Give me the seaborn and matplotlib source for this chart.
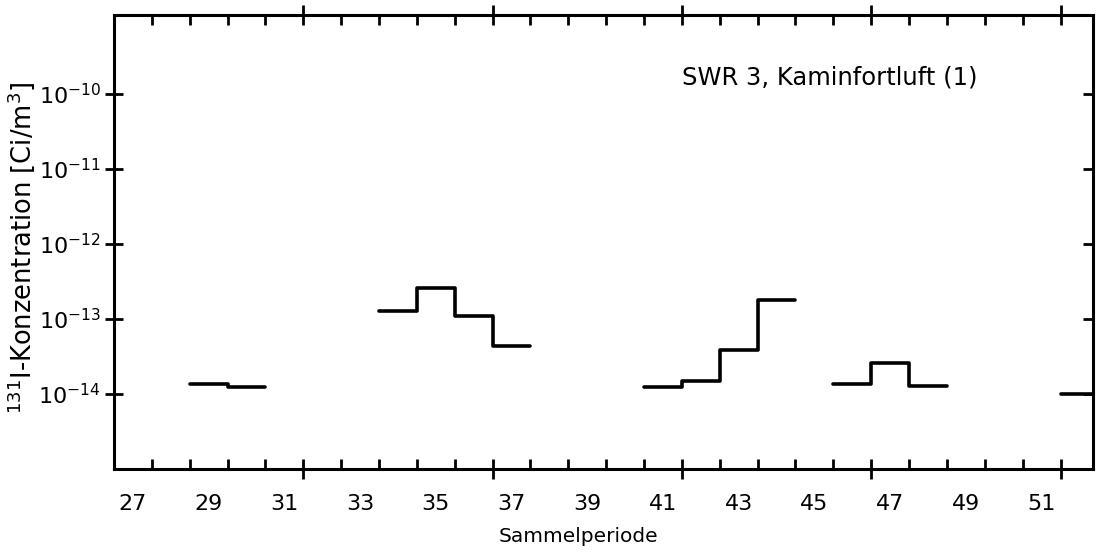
import numpy as np
import pandas as pd
import matplotlib
matplotlib.use("Agg")
import matplotlib.pyplot as plt
import seaborn as sns
from matplotlib.ticker import FixedLocator, NullLocator, NullFormatter

# ---- data ----
periods = [29, 30, 34, 35, 36, 37, 41, 42, 43, 44, 46, 47, 48, 52]
conc = [1.35e-14, 1.25e-14,
        1.29e-13, 2.57e-13, 1.10e-13, 4.4e-14,
        1.25e-14, 1.5e-14, 3.86e-14, 1.79e-13,
        1.35e-14, 2.61e-14, 1.29e-14,
        1.0e-14]
xtick_labels = list(range(27, 52, 2))
ytick_values = [1e-14, 1e-13, 1e-12, 1e-11, 1e-10]
annotation = "SWR 3, Kaminfortluft (1)"
xlabel = "Sammelperiode"
ylabel = r"$^{131}$I-Konzentration [Ci/m$^3$]"

# build step table: each collection period spans p-0.5 .. p+0.5
rows = []
group = 0
for i, (p, c) in enumerate(zip(periods, conc)):
    if i > 0 and p != periods[i - 1] + 1:
        group += 1
    rows.append({"group": group, "x": p - 0.5, "y": c})
    if i == len(periods) - 1 or periods[i + 1] != p + 1:
        rows.append({"group": group, "x": p + 0.5, "y": c})
df = pd.DataFrame(rows)

sns.set_theme(style="ticks")
plt.rcParams["font.family"] = ["DejaVu Sans"]
plt.rcParams["mathtext.fontset"] = "dejavusans"

fig = plt.figure(figsize=(10.96, 5.57), dpi=100)
ax = fig.add_axes([0.104, 0.158, 0.893, 0.815])
ax.set_yscale("log")

sns.lineplot(data=df, x="x", y="y", units="group", estimator=None,
             drawstyle="steps-post", color="black", linewidth=2.6,
             sort=False, legend=False, ax=ax)

ax.set_xlim(26.5, 52.35)
ax.set_ylim(1e-15, 1.13e-9)

# x ticks: period boundaries (short, inward) and every fifth boundary (long, crossing)
ax.xaxis.set_major_locator(FixedLocator([31.5, 36.5, 41.5, 46.5, 51.5]))
ax.xaxis.set_minor_locator(FixedLocator(np.arange(27.5, 52.5, 1.0)))
ax.xaxis.set_major_formatter(NullFormatter())
ax.tick_params(axis="x", which="major", direction="inout", length=14, width=2,
               top=True, bottom=True, color="black")
ax.tick_params(axis="x", which="minor", direction="in", length=7, width=2,
               top=True, bottom=True, color="black")

# x labels at period centres
sec = ax.secondary_xaxis("bottom")
sec.set_xticks(xtick_labels)
sec.set_xticklabels([str(v) for v in xtick_labels])
sec.tick_params(length=0, pad=18, labelsize=16, colors="black")
sec.spines["bottom"].set_visible(False)

# y ticks
ax.yaxis.set_major_locator(FixedLocator(ytick_values))
ax.yaxis.set_minor_locator(NullLocator())
ax.tick_params(axis="y", which="major", direction="inout", length=13, width=2,
               left=True, right=False, labelsize=16, pad=3, colors="black")

ax2 = ax.twinx()
ax2.set_yscale("log")
ax2.set_ylim(ax.get_ylim())
ax2.yaxis.set_major_locator(FixedLocator(ytick_values))
ax2.yaxis.set_minor_locator(NullLocator())
ax2.tick_params(axis="y", which="major", direction="in", length=7, width=2,
                labelright=False, color="black")
for s in ax2.spines.values():
    s.set_visible(False)

for s in ax.spines.values():
    s.set_linewidth(2.2)
    s.set_color("black")

ax.set_xlabel(xlabel, fontsize=14.5, color="black")
ax.xaxis.set_label_coords(0.475, -0.127)
ax.set_ylabel(ylabel, fontsize=18.5, color="black")
ax.yaxis.set_label_coords(-0.079, 0.487)

ax.text(0.580, 0.863, annotation, transform=ax.transAxes, ha="left",
        va="center", fontsize=17.5, color="black")

fig.savefig("out.png", dpi=100)
